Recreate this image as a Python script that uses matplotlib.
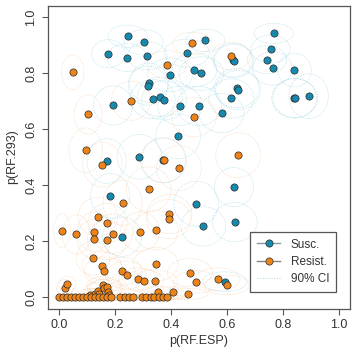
import matplotlib
matplotlib.use("Agg")
import matplotlib.pyplot as plt
from matplotlib.patches import Ellipse
from matplotlib.lines import Line2D

plt.rcParams['font.family'] = ['Liberation Sans', 'DejaVu Sans']

# Susceptible: p(RF.ESP), p(RF.293), CI half-widths
susc_x = [0.246, 0.303, 0.177, 0.243, 0.316, 0.457, 0.523, 0.484, 0.509, 0.397,
          0.322, 0.318, 0.335, 0.361, 0.376, 0.194, 0.433, 0.501, 0.581, 0.426,
          0.288, 0.171, 0.372, 0.184, 0.226, 0.491, 0.625, 0.516, 0.628, 0.592,
          0.621, 0.625, 0.616, 0.635, 0.640, 0.767, 0.756, 0.743, 0.763, 0.841,
          0.840, 0.844, 0.892]
susc_y = [0.931, 0.909, 0.869, 0.855, 0.861, 0.871, 0.916, 0.811, 0.798, 0.793,
          0.765, 0.755, 0.707, 0.715, 0.702, 0.684, 0.683, 0.682, 0.657, 0.574,
          0.501, 0.486, 0.488, 0.362, 0.216, 0.334, 0.393, 0.253, 0.268, 0.056,
          0.846, 0.842, 0.709, 0.746, 0.739, 0.941, 0.885, 0.847, 0.816, 0.810,
          0.710, 0.710, 0.717]
susc_cx = [0.07, 0.07, 0.06, 0.07, 0.07, 0.08, 0.07, 0.08, 0.08, 0.08,
           0.07, 0.07, 0.08, 0.08, 0.08, 0.07, 0.08, 0.08, 0.08, 0.08,
           0.08, 0.07, 0.08, 0.07, 0.07, 0.08, 0.07, 0.08, 0.08, 0.08,
           0.07, 0.07, 0.08, 0.08, 0.08, 0.07, 0.07, 0.07, 0.07, 0.06,
           0.08, 0.08, 0.07]
susc_cy = [0.04, 0.045, 0.05, 0.05, 0.05, 0.05, 0.04, 0.06, 0.06, 0.06,
           0.07, 0.07, 0.07, 0.07, 0.07, 0.07, 0.07, 0.07, 0.07, 0.08,
           0.08, 0.08, 0.08, 0.08, 0.07, 0.08, 0.07, 0.07, 0.07, 0.035,
           0.06, 0.06, 0.07, 0.07, 0.07, 0.036, 0.05, 0.05, 0.06, 0.06,
           0.07, 0.07, 0.08]

# Resistant
res_x = [0.050, 0.477, 0.386, 0.615, 0.257, 0.105, 0.483, 0.096, 0.156, 0.376,
         0.429, 0.640, 0.321, 0.228, 0.139, 0.395, 0.392, 0.174, 0.012, 0.063,
         0.126, 0.126, 0.172, 0.193, 0.291, 0.347, 0.122, 0.153, 0.161, 0.226,
         0.242, 0.346, 0.284, 0.305, 0.344, 0.468, 0.490, 0.567, 0.600, 0.355,
         0.409, 0.462, 0.022, 0.031, 0.112, 0.128, 0.141, 0.159, 0.162, 0.171,
         0.177, 0.178, 0.144,
         0.002, 0.016, 0.031, 0.045, 0.059, 0.073, 0.088, 0.102, 0.116, 0.130,
         0.145, 0.159, 0.173, 0.188, 0.219, 0.237, 0.251, 0.266, 0.296, 0.310,
         0.328, 0.341, 0.358, 0.373, 0.385]
res_y = [0.802, 0.905, 0.830, 0.861, 0.701, 0.652, 0.643, 0.524, 0.473, 0.489,
         0.461, 0.507, 0.385, 0.337, 0.287, 0.297, 0.279, 0.265, 0.238, 0.224,
         0.234, 0.208, 0.205, 0.227, 0.234, 0.239, 0.139, 0.113, 0.094, 0.093,
         0.079, 0.118, 0.065, 0.058, 0.058, 0.088, 0.055, 0.065, 0.044, 0.020,
         0.018, 0.012, 0.034, 0.046, 0.010, 0.012, 0.024, 0.044, 0.032, 0.036,
         0.020, 0.007, 0.012,
         0.0, 0.0, 0.0, 0.0, 0.0, 0.0, 0.0, 0.0, 0.0, 0.0,
         0.0, 0.0, 0.0, 0.0, 0.0, 0.0, 0.0, 0.0, 0.0, 0.0,
         0.0, 0.0, 0.0, 0.0, 0.0]
res_cx = [0.04, 0.07, 0.07, 0.07, 0.07, 0.05, 0.08, 0.06, 0.07, 0.08,
          0.08, 0.08, 0.08, 0.07, 0.07, 0.08, 0.08, 0.07, 0.03, 0.05,
          0.06, 0.06, 0.07, 0.07, 0.07, 0.08, 0.06, 0.07, 0.07, 0.07,
          0.07, 0.08, 0.07, 0.07, 0.08, 0.08, 0.08, 0.08, 0.08, 0.06,
          0.07, 0.07, 0.03, 0.03, 0.05, 0.05, 0.05, 0.06, 0.06, 0.06,
          0.06, 0.06, 0.05,
          0.02, 0.03, 0.03, 0.04, 0.04, 0.04, 0.05, 0.05, 0.05, 0.05,
          0.05, 0.06, 0.06, 0.06, 0.06, 0.06, 0.06, 0.06, 0.07, 0.07,
          0.07, 0.07, 0.07, 0.07, 0.07]
res_cy = [0.062, 0.04, 0.05, 0.05, 0.07, 0.07, 0.07, 0.08, 0.08, 0.08,
          0.08, 0.08, 0.08, 0.08, 0.07, 0.07, 0.07, 0.07, 0.06, 0.07,
          0.07, 0.07, 0.07, 0.07, 0.07, 0.07, 0.06, 0.05, 0.05, 0.05,
          0.05, 0.06, 0.04, 0.04, 0.04, 0.05, 0.04, 0.04, 0.035, 0.02,
          0.02, 0.02, 0.03, 0.03, 0.02, 0.02, 0.03, 0.03, 0.03, 0.03,
          0.02, 0.02, 0.02,
          0.01, 0.01, 0.01, 0.01, 0.01, 0.01, 0.01, 0.01, 0.01, 0.01,
          0.01, 0.01, 0.01, 0.01, 0.01, 0.01, 0.01, 0.01, 0.01, 0.01,
          0.01, 0.01, 0.01, 0.01, 0.01]

ticks = [0.0, 0.2, 0.4, 0.6, 0.8, 1.0]
tick_labels = ["0.0", "0.2", "0.4", "0.6", "0.8", "1.0"]

blue = '#1589ae'
orange = '#ee8418'
blue_ci = '#a6d8e6'
orange_ci = '#f7d0aa'
edge = '#2b2b2b'

fig = plt.figure(figsize=(3.61, 3.51), dpi=100)
ax = fig.add_axes([0.1316, 0.121, 0.8385, 0.863])

for x, y, cx, cy in zip(res_x, res_y, res_cx, res_cy):
    ax.add_patch(Ellipse((x, y), 2 * cx, 2 * cy, fill=False, ec=orange_ci,
                         ls=(0, (1, 1.5)), lw=0.5, zorder=1))
for x, y, cx, cy in zip(susc_x, susc_y, susc_cx, susc_cy):
    ax.add_patch(Ellipse((x, y), 2 * cx, 2 * cy, fill=False, ec=blue_ci,
                         ls=(0, (1, 1.5)), lw=0.5, zorder=1))

ax.plot(susc_x, susc_y, 'o', ms=5.2, mfc=blue, mec=edge, mew=0.5, ls='none', zorder=3)
ax.plot(res_x, res_y, 'o', ms=5.2, mfc=orange, mec=edge, mew=0.5, ls='none', zorder=4)

ax.set_xlim(-0.04, 1.04)
ax.set_ylim(-0.04, 1.04)
ax.set_xticks(ticks)
ax.set_xticklabels(tick_labels)
ax.set_yticks(ticks)
ax.set_yticklabels(tick_labels, rotation=90, va='center')
for s in ax.spines.values():
    s.set_color('#555555')
    s.set_linewidth(0.9)
ax.tick_params(direction='out', length=4.5, width=0.8, color='#555555',
               labelsize=9, labelcolor='#333333', pad=3)
ax.set_xlabel('p(RF.ESP)', fontsize=9, color='#333333', labelpad=3)
ax.set_ylabel('p(RF.293)', fontsize=9, color='#333333', labelpad=5)

handles = [
    Line2D([], [], color='#8a9aa0', lw=1.0, marker='o', ms=5.2, mfc=blue, mec=edge, mew=0.5),
    Line2D([], [], color='#8a8580', lw=1.0, marker='o', ms=5.2, mfc=orange, mec=edge, mew=0.5),
    Line2D([], [], color='#bcdbe3', lw=0.8, ls=(0, (1, 1.5))),
]
leg = ax.legend(handles, ['Susc.', 'Resist.', '90% CI'], loc='upper right',
                bbox_to_anchor=(0.953, 0.2525), borderaxespad=0, fancybox=False,
                framealpha=1, edgecolor='#555555', fontsize=8.5, handlelength=2.0,
                labelspacing=0.45, borderpad=0.55, handletextpad=0.9)
leg.get_frame().set_linewidth(0.9)
for t in leg.get_texts():
    t.set_color('#333333')

fig.savefig('out.png', dpi=100)
